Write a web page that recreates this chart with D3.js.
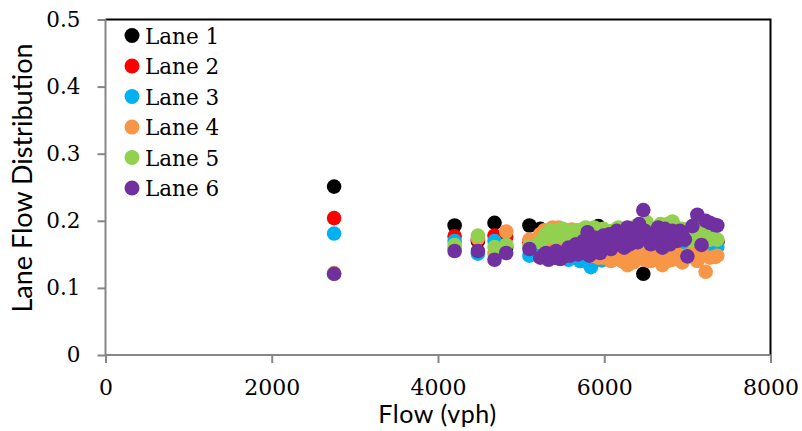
<!DOCTYPE html>
<html>
<head>
<meta charset="utf-8">
<script src="https://cdn.jsdelivr.net/npm/d3@7"></script>
<style>
  body { margin: 0; background: #fff; }
  svg { display: block; }
</style>
</head>
<body>
<svg id="chart" width="802" height="431"></svg>
<script>
// Observed total flow (vph) for each interval
const flow = [2750, 4200, 4480, 4680, 4820, 5100, 5230,
  5280, 5330, 5380, 5420, 5470, 5520, 5570, 5610, 5660, 5710,
  5750, 5800, 5840, 5880, 5930, 5970, 6010, 6060, 6100, 6150,
  6190, 6240, 6280, 6330, 6380, 6420, 6470, 6510, 6560, 6610,
  6650, 6700, 6760, 6820, 6880, 6940, 7000, 7060, 7120, 7170,
  7220, 7270, 7330, 7360,
  5300, 5350, 5400, 5450, 5500, 5545, 5590, 5635, 5685, 5730,
  5775, 5820, 5860, 5905, 5950, 5990, 6035, 6080, 6125, 6170,
  6215, 6260, 6305, 6355, 6400, 6445, 6490, 6535, 6585, 6630,
  6675, 6730, 6790, 6850, 6910, 6970];

// Share of the total flow carried by each lane
const lane1 = [0.251, 0.193, 0.170, 0.197, 0.160, 0.193, 0.188,
  0.175, 0.172, 0.170, 0.178, 0.168, 0.175, 0.172, 0.176, 0.170, 0.174,
  0.180, 0.172, 0.176, 0.178, 0.192, 0.175, 0.170, 0.178, 0.172, 0.176,
  0.174, 0.170, 0.178, 0.175, 0.172, 0.176, 0.121, 0.174, 0.178, 0.172,
  0.175, 0.176, 0.178, 0.174, 0.176, 0.172, 0.175, 0.178, 0.176, 0.175,
  0.172, 0.174, 0.170, 0.168,
  0.172, 0.175, 0.170, 0.174, 0.176, 0.172, 0.170, 0.175, 0.172, 0.174,
  0.170, 0.176, 0.172, 0.174, 0.170, 0.175, 0.172, 0.174, 0.176, 0.170,
  0.172, 0.175, 0.174, 0.170, 0.172, 0.176, 0.174, 0.172, 0.175, 0.170,
  0.174, 0.172, 0.176, 0.174, 0.172, 0.175];
const lane2 = [0.204, 0.177, 0.172, 0.178, 0.176, 0.168, 0.170,
  0.170, 0.168, 0.172, 0.165, 0.170, 0.168, 0.166, 0.172, 0.168, 0.165,
  0.170, 0.167, 0.172, 0.168, 0.165, 0.170, 0.168, 0.172, 0.166, 0.170,
  0.168, 0.165, 0.172, 0.168, 0.170, 0.166, 0.168, 0.172, 0.170, 0.165,
  0.168, 0.170, 0.172, 0.168, 0.166, 0.170, 0.168, 0.172, 0.170, 0.168,
  0.172, 0.170, 0.168, 0.170,
  0.170, 0.168, 0.172, 0.170, 0.168, 0.170, 0.172, 0.168, 0.170, 0.168,
  0.172, 0.170, 0.168, 0.170, 0.172, 0.168, 0.170, 0.170, 0.168, 0.172,
  0.170, 0.168, 0.170, 0.172, 0.168, 0.170, 0.168, 0.172, 0.170, 0.168,
  0.170, 0.172, 0.168, 0.170, 0.168, 0.172];
const lane3 = [0.181, 0.170, 0.151, 0.170, 0.164, 0.148, 0.152,
  0.148, 0.155, 0.150, 0.145, 0.152, 0.147, 0.142, 0.150, 0.145, 0.140,
  0.148, 0.138, 0.131, 0.145, 0.150, 0.141, 0.146, 0.142, 0.148, 0.144,
  0.151, 0.146, 0.150, 0.152, 0.148, 0.145, 0.150, 0.155, 0.148, 0.152,
  0.150, 0.155, 0.150, 0.153, 0.158, 0.150, 0.155, 0.152, 0.156, 0.154,
  0.158, 0.157, 0.160, 0.161,
  0.150, 0.146, 0.152, 0.148, 0.150, 0.145, 0.148, 0.150, 0.146, 0.144,
  0.148, 0.142, 0.146, 0.148, 0.145, 0.150, 0.148, 0.146, 0.150, 0.148,
  0.152, 0.150, 0.148, 0.152, 0.150, 0.152, 0.150, 0.155, 0.152, 0.154,
  0.152, 0.155, 0.156, 0.155, 0.158, 0.156];
const lane4 = [0.122, 0.159, 0.174, 0.152, 0.184, 0.172, 0.180,
  0.186, 0.172, 0.190, 0.168, 0.188, 0.183, 0.170, 0.187, 0.178, 0.185,
  0.165, 0.176, 0.150, 0.168, 0.145, 0.160, 0.152, 0.170, 0.142, 0.155,
  0.148, 0.138, 0.134, 0.150, 0.142, 0.160, 0.148, 0.152, 0.140, 0.145,
  0.150, 0.134, 0.140, 0.142, 0.150, 0.138, 0.146, 0.152, 0.140, 0.155,
  0.124, 0.145, 0.146, 0.148,
  0.180, 0.185, 0.178, 0.190, 0.176, 0.186, 0.180, 0.172, 0.182, 0.168,
  0.160, 0.155, 0.148, 0.165, 0.150, 0.145, 0.155, 0.140, 0.150, 0.145,
  0.140, 0.152, 0.145, 0.138, 0.150, 0.146, 0.142, 0.140, 0.150, 0.148,
  0.142, 0.140, 0.150, 0.145, 0.142, 0.148];
const lane5 = [0.121, 0.164, 0.178, 0.161, 0.164, 0.162, 0.168,
  0.175, 0.182, 0.178, 0.185, 0.180, 0.176, 0.183, 0.178, 0.186, 0.181,
  0.176, 0.188, 0.172, 0.190, 0.179, 0.168, 0.182, 0.176, 0.185, 0.178,
  0.170, 0.188, 0.175, 0.183, 0.192, 0.168, 0.185, 0.198, 0.180, 0.176,
  0.190, 0.183, 0.195, 0.199, 0.178, 0.188, 0.182, 0.170, 0.190, 0.183,
  0.178, 0.172, 0.173, 0.172,
  0.180, 0.186, 0.176, 0.183, 0.188, 0.178, 0.184, 0.176, 0.186, 0.180,
  0.190, 0.176, 0.185, 0.182, 0.178, 0.188, 0.180, 0.184, 0.176, 0.190,
  0.182, 0.186, 0.178, 0.180, 0.188, 0.176, 0.192, 0.180, 0.186, 0.178,
  0.195, 0.180, 0.188, 0.192, 0.180, 0.186];
const lane6 = [0.121, 0.155, 0.155, 0.142, 0.152, 0.158, 0.145,
  0.150, 0.142, 0.147, 0.155, 0.143, 0.148, 0.160, 0.153, 0.165, 0.158,
  0.170, 0.183, 0.162, 0.175, 0.168, 0.158, 0.172, 0.180, 0.165, 0.185,
  0.175, 0.160, 0.190, 0.170, 0.178, 0.195, 0.216, 0.172, 0.165, 0.182,
  0.190, 0.160, 0.175, 0.185, 0.170, 0.178, 0.147, 0.192, 0.209, 0.164,
  0.200, 0.197, 0.194, 0.193,
  0.152, 0.148, 0.145, 0.150, 0.146, 0.152, 0.148, 0.155, 0.150, 0.162,
  0.155, 0.148, 0.170, 0.160, 0.152, 0.178, 0.165, 0.158, 0.175, 0.168,
  0.182, 0.172, 0.165, 0.185, 0.168, 0.178, 0.185, 0.180, 0.170, 0.176,
  0.182, 0.188, 0.165, 0.178, 0.185, 0.172];

const laneNames = ["Lane 1", "Lane 2", "Lane 3", "Lane 4", "Lane 5", "Lane 6"];
const laneColors = ["#000000", "#FF0000", "#00B0F0", "#F79646", "#92D050", "#7030A0"];
const xTicks = [0, 2000, 4000, 6000, 8000];
const yTicks = [0, 0.1, 0.2, 0.3, 0.4, 0.5];

const lanes = [lane1, lane2, lane3, lane4, lane5, lane6];

const svg = d3.select("#chart");
const plotLeft = 105.5, plotRight = 770.5, plotTop = 19.5, plotBottom = 355;

const x = d3.scaleLinear().domain([0, 8000]).range([plotLeft, plotRight]);
const y = d3.scaleLinear().domain([0, 0.5]).range([plotBottom, plotTop]);

const serif = "'DejaVu Serif', serif";
const sans = "Lato, 'Open Sans', sans-serif";
const axisGrey = "#868686";

// Plot frame: top and right edges
svg.append("path")
  .attr("d", `M${plotLeft},${plotTop}H${plotRight}V${plotBottom}`)
  .attr("fill", "none").attr("stroke", "#000").attr("stroke-width", 2);

// Axes
const yAxis = d3.axisLeft(y).tickValues(yTicks).tickSize(8).tickPadding(17)
  .tickFormat(d => d === 0 ? "0" : d3.format(".1f")(d));
const xAxis = d3.axisBottom(x).tickValues(xTicks).tickSize(8).tickPadding(16)
  .tickFormat(d3.format("d"));

const gy = svg.append("g").attr("transform", `translate(${plotLeft},0)`).call(yAxis);
const gx = svg.append("g").attr("transform", `translate(0,${plotBottom})`).call(xAxis);

[gx, gy].forEach(g => {
  g.select(".domain").attr("stroke", axisGrey).attr("stroke-width", 2);
  g.selectAll(".tick line").attr("stroke", axisGrey).attr("stroke-width", 2);
  g.selectAll(".tick text").attr("fill", "#000")
    .style("font-family", serif).style("font-size", "21.5px");
});
gx.selectAll(".tick text").style("font-size", "22px");
gy.select(".domain").attr("d", `M0,${plotTop}V${plotBottom}`);
gx.select(".domain").attr("d", `M${plotLeft},0H${plotRight}`);

// Scatter points, one series per lane, later lanes drawn on top
const plot = svg.append("g");
lanes.forEach((vals, i) => {
  plot.append("g").selectAll("circle")
    .data(vals.map((v, j) => ({ f: flow[j], v })))
    .join("circle")
    .attr("cx", d => x(d.f))
    .attr("cy", d => y(d.v))
    .attr("r", 7.3)
    .attr("fill", laneColors[i]);
});

// Legend
const legend = svg.append("g");
laneNames.forEach((name, i) => {
  const cy = 35.5 + i * 30.5;
  legend.append("circle").attr("cx", 132).attr("cy", cy).attr("r", 7.5)
    .attr("fill", laneColors[i]);
  legend.append("text").attr("x", 145).attr("y", cy + 8)
    .style("font-family", serif).style("font-size", "21.5px")
    .attr("fill", "#000").text(name);
});

// Axis titles
svg.append("text")
  .attr("x", 437.5).attr("y", 423)
  .attr("text-anchor", "middle")
  .style("font-family", sans).style("font-size", "25px")
  .style("letter-spacing", "0.6px")
  .attr("fill", "#000").text("Flow (vph)");

svg.append("text")
  .attr("transform", "translate(32,178) rotate(-90)")
  .attr("text-anchor", "middle")
  .style("font-family", sans).style("font-size", "27px")
  .attr("fill", "#000").text("Lane Flow Distribution");
</script>
</body>
</html>
